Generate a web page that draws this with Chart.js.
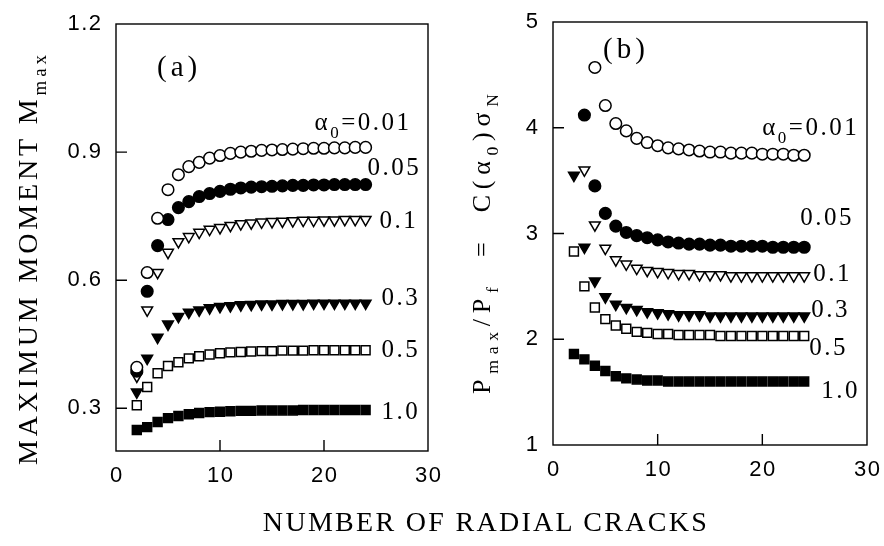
<!DOCTYPE html>
<html>
<head>
<meta charset="utf-8">
<script src="https://cdn.jsdelivr.net/npm/chart.js@4.4.1/dist/chart.umd.min.js"></script>
<style>
  html, body { margin: 0; padding: 0; background: #fff; }
  #wrap { position: relative; width: 884px; height: 546px; overflow: hidden; }
  .panel { position: absolute; top: 0; width: 442px; height: 546px; }
  #pa { left: 0; }
  #pb { left: 442px; }
  #xtitle {
    position: absolute; left: 186px; width: 600px; top: 506px;
    text-align: center; font: 28px "Liberation Serif", serif; letter-spacing: 2.3px;
    color: #000; line-height: 32px;
  }
</style>
</head>
<body>
<div id="wrap">
  <div class="panel" id="pa"><canvas id="chartA" width="442" height="546"></canvas></div>
  <div class="panel" id="pb"><canvas id="chartB" width="442" height="546"></canvas></div>
  <div id="xtitle">NUMBER OF RADIAL CRACKS</div>
</div>
<script>
// number of radial cracks (same for every series)
const cracks = [2, 3, 4, 5, 6, 7, 8, 9, 10, 11, 12, 13, 14, 15, 16, 17, 18, 19, 20, 21, 22, 23, 24];

// (a) maximum moment M_max, one list per alpha_0
const momentA001 = [0.396, 0.618, 0.745, 0.812, 0.847, 0.866, 0.876, 0.886, 0.892, 0.897, 0.900, 0.902, 0.904, 0.905, 0.906, 0.907, 0.908, 0.909, 0.909, 0.910, 0.910, 0.911, 0.911];
const momentA005 = [0.387, 0.574, 0.681, 0.742, 0.770, 0.784, 0.796, 0.803, 0.808, 0.813, 0.816, 0.818, 0.819, 0.820, 0.821, 0.822, 0.822, 0.823, 0.823, 0.824, 0.824, 0.824, 0.824];
const momentA01  = [0.375, 0.530, 0.618, 0.665, 0.690, 0.702, 0.712, 0.719, 0.723, 0.728, 0.732, 0.734, 0.736, 0.737, 0.738, 0.739, 0.740, 0.740, 0.741, 0.741, 0.742, 0.742, 0.742];
const momentA03  = [0.338, 0.417, 0.466, 0.497, 0.515, 0.525, 0.530, 0.535, 0.538, 0.540, 0.542, 0.543, 0.544, 0.544, 0.545, 0.545, 0.545, 0.546, 0.546, 0.546, 0.546, 0.546, 0.546];
const momentA05  = [0.307, 0.350, 0.382, 0.399, 0.408, 0.417, 0.422, 0.426, 0.429, 0.431, 0.432, 0.433, 0.434, 0.434, 0.435, 0.435, 0.435, 0.436, 0.436, 0.436, 0.436, 0.436, 0.436];
const momentA10  = [0.249, 0.256, 0.268, 0.277, 0.282, 0.286, 0.289, 0.291, 0.292, 0.293, 0.294, 0.294, 0.295, 0.295, 0.295, 0.295, 0.296, 0.296, 0.296, 0.296, 0.296, 0.296, 0.296];

// (b) Pmax/Pf, null = off the top of the plot
const loadB001 = [null, null, 4.57, 4.21, 4.04, 3.97, 3.90, 3.86, 3.83, 3.81, 3.80, 3.79, 3.78, 3.77, 3.77, 3.76, 3.76, 3.76, 3.75, 3.75, 3.75, 3.74, 3.74];
const loadB005 = [null, 4.12, 3.45, 3.19, 3.07, 3.01, 2.98, 2.96, 2.94, 2.92, 2.91, 2.90, 2.90, 2.89, 2.89, 2.88, 2.88, 2.88, 2.88, 2.87, 2.87, 2.87, 2.87];
const loadB01  = [null, 3.60, 3.08, 2.86, 2.75, 2.71, 2.67, 2.65, 2.64, 2.63, 2.62, 2.62, 2.61, 2.61, 2.61, 2.60, 2.60, 2.60, 2.60, 2.60, 2.60, 2.60, 2.60];
const loadB03  = [3.55, 2.87, 2.55, 2.40, 2.33, 2.30, 2.28, 2.26, 2.25, 2.24, 2.23, 2.23, 2.23, 2.22, 2.22, 2.22, 2.22, 2.22, 2.22, 2.22, 2.22, 2.22, 2.22];
const loadB05  = [2.83, 2.50, 2.30, 2.19, 2.13, 2.10, 2.07, 2.06, 2.05, 2.05, 2.04, 2.04, 2.04, 2.04, 2.03, 2.03, 2.03, 2.03, 2.03, 2.03, 2.03, 2.03, 2.03];
const loadB10  = [1.86, 1.81, 1.75, 1.70, 1.65, 1.63, 1.62, 1.61, 1.61, 1.60, 1.60, 1.60, 1.60, 1.60, 1.60, 1.60, 1.60, 1.60, 1.60, 1.60, 1.60, 1.60, 1.60];

const alphaLabels = ['α_{0}=0.01', '0.05', '0.1', '0.3', '0.5', '1.0'];
const xTicks = [0, 10, 20, 30];
const yTicksA = [0.3, 0.6, 0.9, 1.2];
const yTicksB = [1, 2, 3, 4, 5];

// marker per alpha_0: open circle, filled circle, open/filled down triangle, open/filled square
const markers = [
  { style: 'circle', open: true, r: 5.8, rot: 0 },
  { style: 'circle', open: false, r: 5.8, rot: 0 },
  { style: 'triangle', open: true, r: 6.2, rot: 180 },
  { style: 'triangle', open: false, r: 6.2, rot: 180 },
  { style: 'rect', open: true, r: 6.3, rot: 0 },
  { style: 'rect', open: false, r: 6.3, rot: 0 }
];

const SERIF = '"Liberation Serif", serif';
const SANS = '"Liberation Sans", sans-serif';

// text with _{sub} parts, drawn char by char so spacing can be stretched
function parseRich(str) {
  const parts = [];
  const re = /_\{([^}]*)\}/g;
  let last = 0, m;
  while ((m = re.exec(str))) {
    if (m.index > last) parts.push({ t: str.slice(last, m.index), sub: false });
    parts.push({ t: m[1], sub: true });
    last = re.lastIndex;
  }
  if (last < str.length) parts.push({ t: str.slice(last), sub: false });
  return parts;
}

function drawRich(ctx, str, x, y, o) {
  const parts = parseRich(str);
  const subSize = o.size * 0.68;
  let w = 0, n = 0;
  parts.forEach(p => {
    ctx.font = (p.sub ? subSize : o.size) + 'px ' + o.family;
    for (const ch of p.t) { w += ctx.measureText(ch).width; n++; }
  });
  const gap = o.target ? (o.target - w) / Math.max(n - 1, 1) : (o.spacing || 0);
  const total = w + gap * (n - 1);
  let cx = o.align === 'center' ? x - total / 2 : o.align === 'right' ? x - total : x;
  ctx.textBaseline = 'middle';
  ctx.textAlign = 'left';
  parts.forEach(p => {
    ctx.font = (p.sub ? subSize : o.size) + 'px ' + o.family;
    const dy = p.sub ? o.size * 0.4 : 0;
    for (const ch of p.t) {
      ctx.fillText(ch, cx, y + dy);
      cx += ctx.measureText(ch).width + gap;
    }
  });
}

const decor = {
  id: 'decor',
  afterDatasetsDraw(chart, args, o) {
    const { ctx, chartArea: a } = chart;
    const xs = chart.scales.x, ys = chart.scales.y;
    ctx.save();
    ctx.strokeStyle = '#000';
    ctx.fillStyle = '#000';
    ctx.lineWidth = 1.4;
    ctx.strokeRect(a.left, a.top, a.width, a.height);

    // inward ticks
    ctx.beginPath();
    o.yTicks.forEach(v => {
      const py = ys.getPixelForValue(v);
      if (py > a.top + 2 && py < a.bottom - 2) { ctx.moveTo(a.left, py); ctx.lineTo(a.left + 11, py); }
    });
    xTicks.forEach(v => {
      const px = xs.getPixelForValue(v);
      if (px > a.left + 2 && px < a.right - 2) { ctx.moveTo(px, a.bottom); ctx.lineTo(px, a.bottom - 11); }
    });
    ctx.stroke();

    // tick labels
    o.yTicks.forEach(v => {
      drawRich(ctx, o.yFmt(v), a.left - 15, ys.getPixelForValue(v), { size: 22, family: SANS, spacing: 1.5, align: 'right' });
    });
    xTicks.forEach(v => {
      drawRich(ctx, String(v), xs.getPixelForValue(v), a.bottom + 25, { size: 22, family: SANS, spacing: 1.5, align: 'center' });
    });

    // panel tag
    drawRich(ctx, o.tag, a.left + o.tagAt[0], a.top + o.tagAt[1], { size: 29, family: SERIF, spacing: 4 });

    // alpha_0 labels next to last point of each series
    chart.data.datasets.forEach((ds, i) => {
      const pts = chart.getDatasetMeta(i).data;
      const last = pts[pts.length - 1];
      const off = o.labelAt[i];
      drawRich(ctx, ds.label, last.x + off[0], last.y + off[1], { size: 25, family: SERIF, spacing: 2.5 });
    });

    // y title
    ctx.translate(o.yTitleAt[0], o.yTitleAt[1]);
    ctx.rotate(-Math.PI / 2);
    drawRich(ctx, o.yTitle, 0, 0, { size: o.yTitleSize, family: SERIF, target: o.yTitleLen, align: 'center' });
    ctx.restore();
  }
};

function buildPanel(canvasId, series, area, yMin, yMax, decorOpts) {
  return new Chart(document.getElementById(canvasId), {
    type: 'scatter',
    data: {
      datasets: series.map((vals, i) => ({
        label: alphaLabels[i],
        data: cracks.map((x, j) => ({ x: x, y: vals[j] })),
        pointStyle: markers[i].style,
        rotation: markers[i].rot,
        pointRadius: markers[i].r,
        backgroundColor: markers[i].open ? '#fff' : '#000',
        borderColor: '#000',
        borderWidth: 1.5
      }))
    },
    options: {
      responsive: false,
      animation: false,
      layout: { padding: area },
      plugins: {
        legend: { display: false },
        tooltip: { enabled: false },
        decor: decorOpts
      },
      scales: {
        x: { type: 'linear', display: false, min: 0, max: 30 },
        y: { type: 'linear', display: false, min: yMin, max: yMax }
      }
    },
    plugins: [decor]
  });
}

buildPanel('chartA',
  [momentA001, momentA005, momentA01, momentA03, momentA05, momentA10],
  { left: 116, right: 14, top: 24, bottom: 95 }, 0.2, 1.2,
  {
    yTicks: yTicksA, yFmt: v => v.toFixed(1), tag: '(a)', tagAt: [41, 44],
    labelAt: [[-51, -24], [2, -16], [14, 2], [16, -5], [16, 0], [16, 2]],
    yTitle: 'MAXIMUM MOMENT M_{max}', yTitleAt: [30, 260], yTitleSize: 28, yTitleLen: 410
  });

buildPanel('chartB',
  [loadB001, loadB005, loadB01, loadB03, loadB05, loadB10],
  { left: 111, right: 17, top: 22, bottom: 101 }, 1, 5,
  {
    yTicks: yTicksB, yFmt: v => String(v), tag: '(b)', tagAt: [50, 28],
    labelAt: [[-42, -27], [-4, -29], [9, -1], [7, -6], [5, 12], [17, 10]],
    yTitle: 'P_{max}/P_{f}  =  C(α_{0})σ_{N}', yTitleAt: [41, 244], yTitleSize: 26, yTitleLen: 300
  });
</script>
</body>
</html>
